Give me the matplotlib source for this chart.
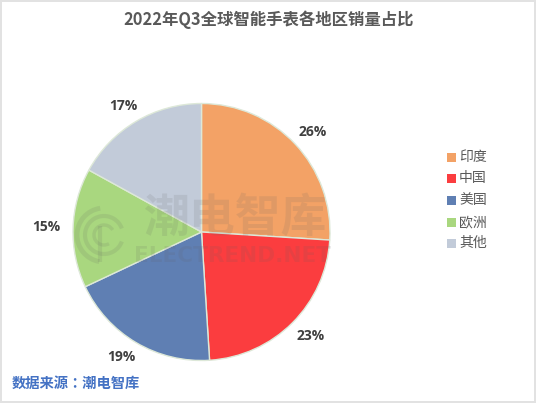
import matplotlib
matplotlib.use("Agg")
import matplotlib.pyplot as plt
from matplotlib.patches import Arc, Rectangle

plt.rcParams['font.family'] = ['Noto Sans CJK SC', 'DejaVu Sans']

regions = ['印度', '中国', '美国', '欧洲', '其他']
shares = [26, 23, 19, 15, 17]
colors = ['#F3A266', '#FB3D3F', '#5F7FB3', '#A9D77F', '#C2CBD9']
title = '2022年Q3全球智能手表各地区销量占比'
source = '数据来源：潮电智库'

W, H = 536, 403
fig = plt.figure(figsize=(W / 100, H / 100), dpi=100, facecolor='white')

cx, cy, r = 201.5, 232, 128.5
ax = fig.add_axes([(cx - r) / W, 1 - (cy + r) / H, 2 * r / W, 2 * r / H])
wedges, _, autotexts = ax.pie(
    shares, colors=colors, startangle=90, counterclock=False, radius=1,
    autopct='%d%%', pctdistance=1.17,
    wedgeprops=dict(edgecolor='#DDE8D8', linewidth=1.0),
    textprops=dict(fontsize=10, fontweight='bold', color='#404040', family='Open Sans'))
ax.set_xlim(-1, 1)
ax.set_ylim(-1, 1)
ax.set_aspect('equal')
label_nudge_px = [(2, 3), (3, -2), (-4, -4), (-5, 0), (-2, 3)]
for t, (dx, dy) in zip(autotexts, label_nudge_px):
    x, y = t.get_position()
    t.set_position((x + dx / r, y - dy / r))
    t.set_clip_on(False)

# page overlay in pixel coordinates
ov = fig.add_axes([0, 0, 1, 1], facecolor='none')
ov.set_xlim(0, W)
ov.set_ylim(H, 0)
ov.axis('off')

ov.text(268.5, 20, title, ha='center', va='center', fontsize=11.8,
        fontweight='bold', color='#595959')
ov.text(12, 384, source, ha='left', va='center', fontsize=10.3,
        fontweight='bold', color='#4472C4', family=['Noto Sans CJK TC', 'DejaVu Sans'])

# legend
leg_y = [157, 178, 200, 222, 243]
for name, col, y in zip(regions, colors, leg_y):
    ov.add_patch(Rectangle((446.5, y - 4.5), 9, 9, facecolor=col, edgecolor='none'))
    ov.text(459, y, name, ha='left', va='center', fontsize=10, color='#595959')

# watermark
wm = '#606060'
alpha = 0.13
ov.text(235, 219, '潮电智库', ha='center', va='center', fontsize=33,
        fontweight='bold', color=wm, alpha=alpha)
ov.text(233, 256, 'ELECTREND.NET', ha='center', va='center', fontsize=15.5,
        fontweight='bold', color=wm, alpha=alpha, family='DejaVu Sans')
for d, a1, a2, lw in [(54, 100, 262, 3.5), (38, 20, 340, 3), (20, 60, 330, 2.5)]:
    ov.add_patch(Arc((104, 235), d, d, theta1=a1, theta2=a2, lw=lw, color=wm, alpha=alpha))
ov.plot([100, 100], [226, 262], lw=3, color=wm, alpha=alpha, solid_capstyle='butt')

# screenshot border
for xy, w, h in [((0, 0), W, 2), ((0, 0), 1.5, H), ((0, H - 2), W, 2), ((W - 2, 0), 2, H)]:
    ov.add_patch(Rectangle(xy, w, h, facecolor='#E2E2E2', edgecolor='none'))
ov.set_xlim(0, W)
ov.set_ylim(H, 0)

fig.savefig('out.png', dpi=100)
